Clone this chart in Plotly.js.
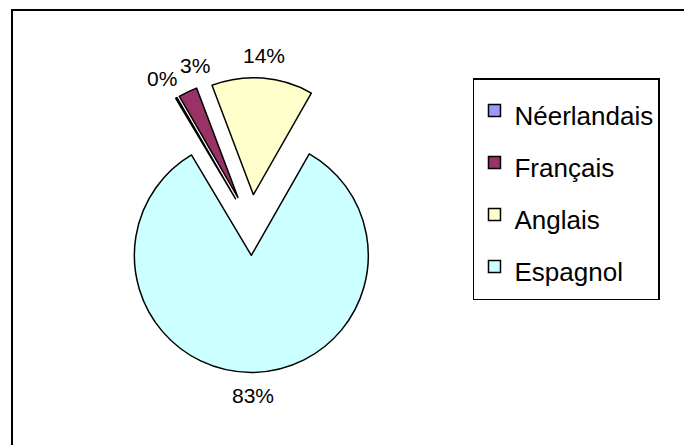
<!DOCTYPE html>
<html>
<head>
<meta charset="utf-8">
<script src="https://cdn.plot.ly/plotly-3.0.1.min.js"></script>
<style>
  html, body { margin: 0; padding: 0; background: #ffffff; }
  #chart { width: 684px; height: 445px; }
</style>
</head>
<body>
<div id="chart"></div>
<script>
// Data
const languages = ["Néerlandais", "Français", "Anglais", "Espagnol"];
const shares = [0.2, 2.6, 14.0, 83.2];
const sliceColors = ["#9999FF", "#993366", "#FFFFCC", "#CCFFFF"];

const W = 684, H = 445;
const FONT = "Liberation Sans, Arial, sans-serif";
const PULL = 0.26;
const ROTATION = -30.8;
const DOMAIN = { x: [0.1515, 0.5825], y: [0.1631, 0.8256] };
const LABEL_SIZE = 21;

const legendLabels = languages.map(l => '<span style="font-size:26px">' + l + '</span>');

const trace = {
  type: "pie",
  labels: legendLabels,
  values: shares,
  sort: false,
  direction: "clockwise",
  rotation: ROTATION,
  pull: PULL,
  marker: { colors: sliceColors, line: { color: "#000000", width: 1.5 } },
  textinfo: "none",
  hoverinfo: "label+percent",
  domain: DOMAIN
};

const layout = {
  width: W,
  height: H,
  margin: { l: 0, r: 0, t: 0, b: 0 },
  paper_bgcolor: "#ffffff",
  font: { family: FONT, color: "#000000" },
  showlegend: true,
  legend: {
    x: 0.6915, xanchor: "left",
    y: 0.8247, yanchor: "top",
    bgcolor: "#ffffff",
    bordercolor: "#000000",
    borderwidth: 1.5,
    font: { size: 37.7, color: "#000000", family: FONT },
    traceorder: "normal"
  },
  shapes: [
    { type: "rect", xref: "paper", yref: "paper",
      x0: 12 / W, x1: 1.05, y0: -0.05, y1: (H - 10) / H,
      line: { color: "#000000", width: 2 }, fillcolor: "rgba(0,0,0,0)", layer: "below" }
  ]
};

function textWidth(s, size) {
  const c = document.createElement("canvas").getContext("2d");
  c.font = size + "px " + FONT;
  return c.measureText(s).width;
}

Plotly.newPlot("chart", [trace], layout, { staticPlot: true, displayModeBar: false }).then(gd => {
  const cd = gd.calcdata[0];
  const total = shares.reduce((a, b) => a + b, 0);
  const r = cd[0].r, cx = cd[0].cx, cy = cd[0].cy;
  const gap = 23;
  const boxH = 24;
  const labels = cd.map((pt, i) => {
    const ux = pt.pxmid[0] / r, uy = pt.pxmid[1] / r;
    const ox = (pt.cxFinal !== undefined ? pt.cxFinal : cx + PULL * pt.pxmid[0]);
    const oy = (pt.cyFinal !== undefined ? pt.cyFinal : cy + PULL * pt.pxmid[1]);
    const txt = Math.round(shares[i] / total * 100) + "%";
    return { i, txt, x: ox + ux * (r + gap), y: oy + uy * (r + gap), w: textWidth(txt, LABEL_SIZE) };
  });
  // de-overlap: labels nearer the horizontal midline stay put; the next one
  // steps sideways (towards the vertical centre line) and slightly outwards
  const order = labels.slice().sort((a, b) => Math.abs(a.y - cy) - Math.abs(b.y - cy));
  const placed = [];
  order.forEach(L => {
    placed.forEach(P => {
      const hOver = Math.abs(L.x - P.x) < (L.w + P.w) / 2 + 3;
      const vOver = Math.abs(L.y - P.y) < boxH;
      if (hOver && vOver) {
        const side = (P.x < cx) ? 1 : -1;
        P.x -= side * 3;
        L.x = P.x + side * ((L.w + P.w) / 2 + 3);
        L.y = (L.y < cy) ? P.y - 13 : P.y + 13;
      }
    });
    placed.push(L);
  });
  const annotations = labels.map(L => ({
    xref: "paper", yref: "paper",
    x: L.x / W, y: 1 - L.y / H,
    xanchor: "center", yanchor: "middle",
    text: L.txt, showarrow: false,
    font: { family: FONT, size: LABEL_SIZE, color: "#000000" }
  }));
  return Plotly.relayout(gd, { annotations });
});
</script>
</body>
</html>
